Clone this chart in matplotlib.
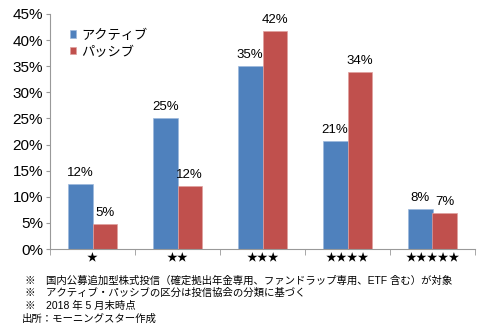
import numpy as np
import matplotlib
matplotlib.use("Agg")
import matplotlib.pyplot as plt
from matplotlib.ticker import FuncFormatter, MultipleLocator

plt.rcParams['font.family'] = ['Liberation Sans', 'Noto Sans CJK JP', 'DejaVu Sans']

# データ
categories = ["★", "★★", "★★★", "★★★★", "★★★★★"]
active = [12.4, 25.0, 35.0, 20.6, 7.7]
passive = [4.8, 12.1, 41.7, 33.9, 6.9]
active_labels = ["12%", "25%", "35%", "21%", "8%"]
passive_labels = ["5%", "12%", "42%", "34%", "7%"]
series_names = ["アクティブ", "パッシブ"]
notes = [
    "※　国内公募追加型株式投信（確定拠出年金専用、ファンドラップ専用、ETF 含む）が対象",
    "※　アクティブ・パッシブの区分は投信協会の分類に基づく",
    "※　2018 年 5 月末時点",
    "出所：モーニングスター作成",
]

blue = "#4F81BD"
red = "#C0504D"

fig = plt.figure(figsize=(5, 3.33), dpi=100)
ax = fig.add_axes([0.10, 0.252, 0.85, 0.706])

x = np.arange(len(categories))
w = 0.29
b1 = ax.bar(x - w / 2, active, w, color=blue, edgecolor="#9DB9DC", linewidth=0.5, label=series_names[0])
b2 = ax.bar(x + w / 2, passive, w, color=red, edgecolor="#E0A09E", linewidth=0.5, label=series_names[1])

for rect, lab in zip(b1, active_labels):
    ax.text(rect.get_x() + rect.get_width() / 2, rect.get_height() + 1.0, lab,
            ha="center", va="bottom", fontsize=9.5)
for rect, lab in zip(b2, passive_labels):
    ax.text(rect.get_x() + rect.get_width() / 2, rect.get_height() + 1.0, lab,
            ha="center", va="bottom", fontsize=9.5)

ax.set_xlim(-0.5, len(categories) - 0.5)
ax.set_ylim(0, 45)
ax.yaxis.set_major_locator(MultipleLocator(5))
ax.yaxis.set_major_formatter(FuncFormatter(lambda v, p: f"{v:.0f}%"))
ax.tick_params(axis="y", labelsize=11, length=3, color="#999999", pad=2)

ax.set_xticks(x)
ax.set_xticklabels(categories, fontsize=7.8, family=['Noto Sans CJK JP'])
ax.tick_params(axis="x", length=0, pad=3)
ax.set_xticks(np.arange(-0.5, len(categories)), minor=True)
ax.tick_params(axis="x", which="minor", length=4, color="#999999")

for s in ["top", "right"]:
    ax.spines[s].set_visible(False)
for s in ["left", "bottom"]:
    ax.spines[s].set_color("#999999")
    ax.spines[s].set_linewidth(0.8)

ax.legend(loc="upper left", bbox_to_anchor=(0.02, 0.985), frameon=False, fontsize=9.5,
          handlelength=0.45, handleheight=0.45, handletextpad=0.35, labelspacing=0.35)

y0 = 0.158
for i, t in enumerate(notes):
    fig.text(0.05 if i < 3 else 0.044, y0 - i * 0.038, t, fontsize=7.5, va="center", ha="left")

fig.savefig("out.png", dpi=100)
